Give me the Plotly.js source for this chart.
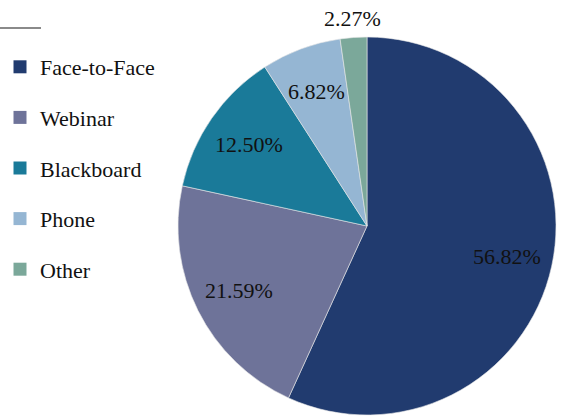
<!DOCTYPE html>
<html>
<head>
<meta charset="utf-8">
<script src="https://cdn.plot.ly/plotly-3.0.1.min.js"></script>
<style>html,body{margin:0;padding:0;background:#fff}#chart{width:564px;height:416px}</style>
</head>
<body>
<div id="chart"></div>
<script>
const categories = ["Face-to-Face", "Webinar", "Blackboard", "Phone", "Other"];
const counts = [50, 19, 11, 6, 2];
const colors = ["#213B6F", "#6E7399", "#1A7A99", "#95B6D3", "#7BA89A"];
const labelInside = [true, true, true, true, false];

const FONT = "Liberation Serif, Times New Roman, serif";
const W = 564, H = 416;
const domX = [178 / W, 556 / W];
const domY = [1 / H, 379 / H];

const pie = {
  type: "pie",
  labels: categories,
  values: counts,
  sort: false,
  direction: "clockwise",
  rotation: 0,
  marker: { colors: colors, line: { color: "#e8e8e8", width: 0.6 } },
  textinfo: "none",
  showlegend: false,
  hoverinfo: "label+percent",
  domain: { x: domX, y: domY }
};

const legendTraces = categories.map((c, i) => ({
  type: "scatter",
  mode: "markers",
  x: [null], y: [null],
  name: c,
  legendgroup: "g" + i,
  marker: { symbol: "square", size: 13, color: colors[i] },
  showlegend: true,
  hoverinfo: "skip"
}));

// percentage labels placed at each slice's mid-angle (clockwise from 12 o'clock)
const total = counts.reduce((a, b) => a + b, 0);
const cxP = (domX[0] + domX[1]) / 2, cyP = (domY[0] + domY[1]) / 2;
const Rpx = (domX[1] - domX[0]) * W / 2;
let cum = 0;
const annotations = counts.map((v, i) => {
  const frac = v / total;
  const mid = (cum + frac / 2) * 2 * Math.PI;
  cum += frac;
  const rf = labelInside[i] ? 0.76 : 1.1;
  return {
    xref: "paper", yref: "paper",
    x: cxP + rf * Rpx * Math.sin(mid) / W,
    y: cyP + rf * Rpx * Math.cos(mid) / H,
    xanchor: "center",
    yanchor: "middle",
    text: (frac * 100).toFixed(2) + "%",
    showarrow: false,
    font: { family: FONT, size: 22, color: "#111" }
  };
});

const layout = {
  width: W,
  height: H,
  margin: { l: 0, r: 0, t: 0, b: 0 },
  paper_bgcolor: "#fff",
  plot_bgcolor: "#fff",
  xaxis: { visible: false },
  yaxis: { visible: false },
  showlegend: true,
  legend: {
    x: 0, xanchor: "left",
    y: 1 - 46 / H, yanchor: "top",
    font: { family: FONT, size: 22, color: "#111" },
    tracegroupgap: 19,
    bgcolor: "rgba(0,0,0,0)",
    itemclick: false, itemdoubleclick: false
  },
  annotations: annotations,
  shapes: [{
    type: "line", xref: "paper", yref: "paper",
    x0: 0, x1: 41 / W, y0: 1 - 28 / H, y1: 1 - 28 / H,
    line: { color: "#8a8a8a", width: 2 }
  }]
};

Plotly.newPlot("chart", [pie].concat(legendTraces), layout, { displayModeBar: false, staticPlot: true });
</script>
</body>
</html>
